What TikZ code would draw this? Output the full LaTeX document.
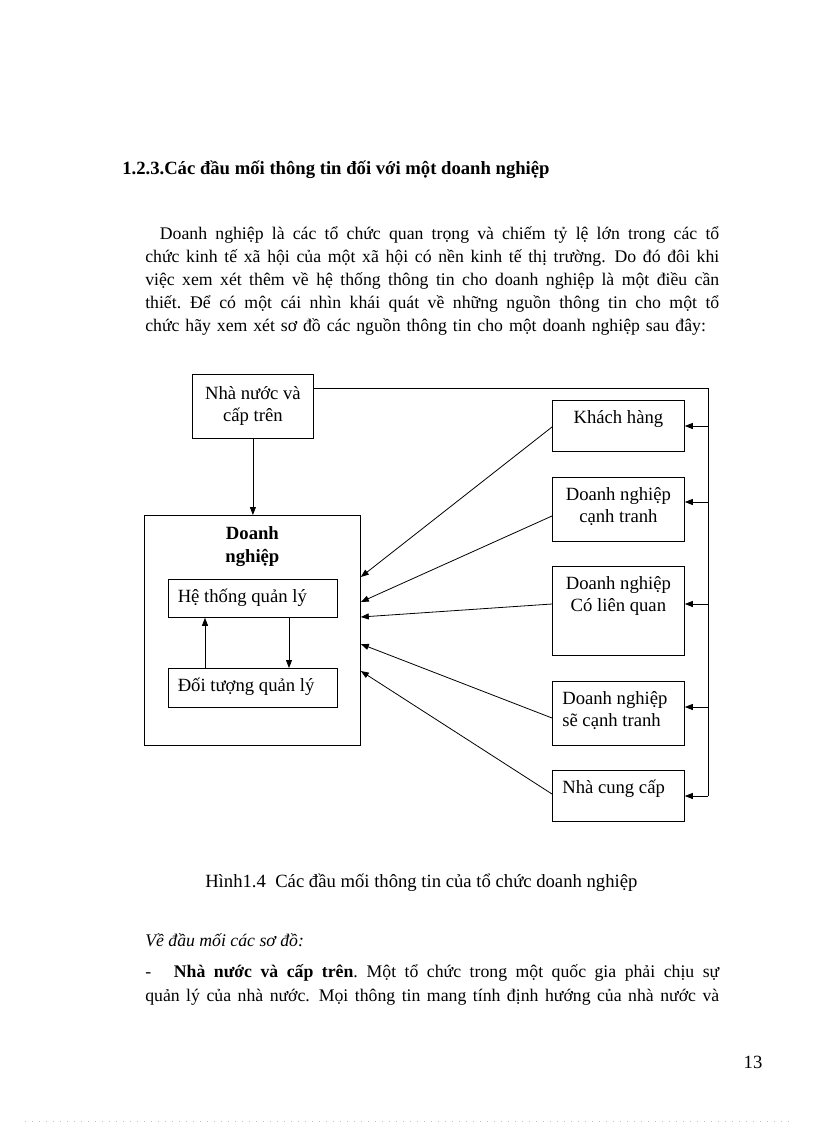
\documentclass[tikz,border=0pt]{standalone}
\usepackage{fontspec}
\setmainfont{Liberation Serif}
\usepackage{tikz}
\usetikzlibrary{arrows.meta,calc}
%Blocksatz von Hand: Wortabstand darf wachsen
\newcommand\zeile[1]{\makebox[430.5pt][s]{\spaceskip=0.25em plus 1fil minus 0.08em\relax#1}}
\tikzset{
  kasten/.style={draw,line width=0.6pt,inner sep=0pt,anchor=north west},
  groesse/.style 2 args={minimum width=#1*0.75pt,minimum height=#2*0.75pt},
  pfeil/.style={line width=0.6pt,-{Triangle[length=6pt,width=4.5pt]}},
  linie/.style={line width=0.6pt},
  schrift/.style={inner sep=0pt,font=\fontsize{14}{16.5}\selectfont},
  fliess/.style={inner sep=0pt,anchor=base west,font=\fontsize{13.3}{17.25}\selectfont},
}

\begin{document}
\begin{tikzpicture}[x=0.75pt,y=-0.75pt]
%Seite in Pixeln, y nach unten
\fill[white] (0,0) rectangle (816,1123);
\useasboundingbox (0,0) rectangle (816,1123);

\node[fliess,font=\fontsize{14}{17}\selectfont\bfseries] (titel) at (122,175) {1.2.3.Các đầu mối thông tin đối với một doanh nghiệp};
\node[fliess,text width=430.5pt] (absatz) at (145,239) {%
\zeile{\hspace*{11pt}Doanh nghiệp là các tổ chức quan trọng và chiếm tỷ lệ lớn trong các tổ}\par
\zeile{chức kinh tế xã hội của một xã hội có nền kinh tế thị trường. Do đó đôi khi}\par
\zeile{việc xem xét thêm về hệ thống thông tin cho doanh nghiệp là một điều cần}\par
\zeile{thiết. Để có một cái nhìn khái quát về những nguồn thông tin cho một tổ}\par
\makebox[430.5pt][l]{chức hãy xem xét sơ đồ các nguồn thông tin cho một doanh nghiệp sau đây:}};

%Kaesten
\node[kasten,groesse={121}{64}] (staat) at (192,374) {};
\node[kasten,groesse={216}{230}] (unternehmen) at (144,515) {};
\node[kasten,groesse={169}{38}] (leitung) at (168,579) {};
\node[kasten,groesse={169}{39}] (objekt) at (168,668) {};
\foreach \name/\oben/\hoehe in {kunde/400/51,konkurrent/477/64,partner/566/89,kuenftig/681/64,lieferant/770/51}{
\node[kasten,groesse={132}{\hoehe}] (\name) at (552,\oben) {};
}

%zweizeilig: base liegt auf der letzten Zeile
\node[schrift,align=center,anchor=base] (staatText) at ($(staat.north)+(0,47)$) {Nhà nước và\\cấp trên};
\node[schrift,align=center,anchor=base,font=\fontsize{14}{17.25}\selectfont\bfseries] (unternehmenText) at ($(unternehmen.north)+(0,47)$) {Doanh\\nghiệp};
\node[schrift,anchor=base west] (leitungText) at ($(leitung.north west)+(9.5,23.5)$) {Hệ thống quản lý};
\node[schrift,anchor=base west] (objektText) at ($(objekt.north west)+(9.5,23.5)$) {Đối tượng quản lý};
\node[schrift,anchor=base] (kundeText) at ($(kunde.north)+(0,23.5)$) {Khách hàng};
\node[schrift,align=center,anchor=base] (konkurrentText) at ($(konkurrent.north)+(0,45.5)$) {Doanh nghiệp\\cạnh tranh};
\node[schrift,align=center,anchor=base] (partnerText) at ($(partner.north)+(0,45.5)$) {Doanh nghiệp\\Có liên quan};
\node[schrift,align=left,anchor=base west] (kuenftigText) at ($(kuenftig.north west)+(10,45.5)$) {Doanh nghiệp\\sẽ cạnh tranh};
\node[schrift,anchor=base west] (lieferantText) at ($(lieferant.north west)+(10,23.5)$) {Nhà cung cấp};

%Pfeile
\draw[pfeil] (staat.south) -- (staat.south |- unternehmen.north);
\draw[pfeil] (objekt.north -| 205,0) -- (leitung.south -| 205,0);
\draw[pfeil] (leitung.south -| 289,0) -- (objekt.north -| 289,0);
\coordinate (schieneOben) at (708,388);
\coordinate (schieneUnten) at (708,796);
\draw[linie] (staat.east |- schieneOben) -- (schieneOben) -- (schieneUnten);
\foreach \ziel/\y in {kunde/426,konkurrent/502,partner/604,kuenftig/707,lieferant/796}{
\draw[pfeil] (schieneOben |- 0,\y) -- (\ziel.east |- 0,\y);
}
\foreach \quelle/\von/\nach in {kunde/427/577,konkurrent/516/602,partner/604/617,kuenftig/718/644,lieferant/794/671}{
\draw[pfeil] (\quelle.west |- 0,\von) -- (unternehmen.east |- 0,\nach);
}

%Text unterhalb
\node[fliess,font=\fontsize{14}{17}\selectfont] (bild) at (205,887) {Hình1.4\ \ Các đầu mối thông tin của tổ chức doanh nghiệp};
\node[fliess,font=\fontsize{13.3}{17}\selectfont\itshape] (ueber) at (145,946) {Về đầu mối các sơ đồ:};
\node[fliess,text width=430pt,font=\fontsize{13.3}{18}\selectfont] (staatAbsatz) at (145,977) {%
\zeile{\makebox[21.5pt][l]{-}\textbf{Nhà nước và cấp trên}. Một tổ chức trong một quốc gia phải chịu sự}\par
\zeile{quản lý của nhà nước. Mọi thông tin mang tính định hướng của nhà nước và}};
\node[fliess,anchor=base,font=\fontsize{14}{17}\selectfont] (seite) at (753,1068) {13};
\draw[gray!50,line width=0.6pt,dash pattern=on 0.75pt off 4.5pt] (25,1121.5) -- (790,1121.5);
\end{tikzpicture}
\end{document}
